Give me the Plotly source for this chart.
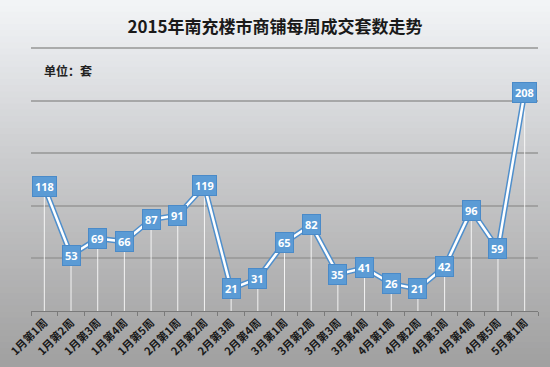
import plotly.graph_objects as go

categories = ["1月第1周", "1月第2周", "1月第3周", "1月第4周", "1月第5周",
              "2月第1周", "2月第2周", "2月第3周", "2月第4周",
              "3月第1周", "3月第2周", "3月第3周", "3月第4周",
              "4月第1周", "4月第2周", "4月第3周", "4月第4周", "4月第5周",
              "5月第1周"]
values = [118, 53, 69, 66, 87, 91, 119, 21, 31, 65, 82, 35, 41, 26, 21, 42, 96, 59, 208]

title_text = "2015年南充楼市商铺每周成交套数走势"
unit_text = "单位：套"

W, H = 550, 367
ML, MR, MT, MB = 31, 12, 47, 56
plot_h = H - MT - MB

fig = go.Figure()

# white drop lines from each point to the axis
fig.add_trace(go.Scatter(
    x=categories, y=values, mode="markers",
    marker=dict(size=1, color="rgba(0,0,0,0)"),
    error_y=dict(type="data", symmetric=False, array=[0] * len(values),
                 arrayminus=values, color="rgba(255,255,255,0.85)",
                 thickness=1, width=0),
    hoverinfo="skip", showlegend=False))

# line: blue outline with white core
fig.add_trace(go.Scatter(x=categories, y=values, mode="lines",
                         line=dict(color="#4f8fcc", width=5.5),
                         hoverinfo="skip", showlegend=False))
fig.add_trace(go.Scatter(x=categories, y=values, mode="lines",
                         line=dict(color="#ffffff", width=2.5),
                         showlegend=False))

# data labels
for c, v in zip(categories, values):
    fig.add_annotation(x=c, y=v, text="<b>%d</b>" % v, showarrow=False,
                       font=dict(family="Noto Sans, DejaVu Sans", size=11, color="white"),
                       bgcolor="#5b9bd5", bordercolor="#4a8ac8", borderwidth=1,
                       borderpad=2, xanchor="center", yanchor="middle")

# gradient background built from horizontal strips
def lerp(a, b, t):
    return tuple(int(round(a[i] + (b[i] - a[i]) * t)) for i in range(3))

stops = [(0, (243, 245, 247)), (60, (228, 230, 233)), (150, (205, 206, 208)),
         (250, (184, 184, 185)), (367, (160, 160, 160))]
n = 60
shapes = []
for i in range(n):
    py0 = H * i / n
    py1 = H * (i + 1) / n
    pm = (py0 + py1) / 2
    for j in range(len(stops) - 1):
        if stops[j][0] <= pm <= stops[j + 1][0]:
            t = (pm - stops[j][0]) / (stops[j + 1][0] - stops[j][0])
            col = lerp(stops[j][1], stops[j + 1][1], t)
            break
    y0 = (H - MB - py1) / plot_h
    y1 = (H - MB - py0) / plot_h
    shapes.append(dict(type="rect", xref="paper", yref="paper",
                       x0=-0.1, x1=1.1, y0=y0 - 0.002, y1=y1 + 0.002,
                       fillcolor="rgb(%d,%d,%d)" % col, line=dict(width=0),
                       layer="below"))

fig.add_annotation(xref="paper", yref="paper", x=0.022, y=(H - MB - 70) / plot_h,
                   text="<b>" + unit_text + "</b>", showarrow=False,
                   xanchor="left", yanchor="middle",
                   font=dict(family="Noto Sans CJK SC", size=12, color="#222"))

fig.update_layout(
    width=W, height=H,
    margin=dict(l=ML, r=MR, t=MT, b=MB),
    paper_bgcolor="#a0a0a0", plot_bgcolor="rgba(0,0,0,0)",
    shapes=shapes,
    title=dict(text="<b>" + title_text + "</b>", x=0.5, xanchor="center",
               y=1 - 27 / H, yanchor="middle",
               font=dict(family="Noto Sans CJK SC", size=17, color="#1a1a1a")),
    xaxis=dict(type="category", range=[-0.5, len(categories) - 0.5],
               automargin=False,
               showgrid=False, showline=True, linecolor="#7a7a7a", linewidth=1,
               ticks="outside", ticklen=4, tickcolor="#7a7a7a", tickson="boundaries",
               tickangle=-45,
               tickfont=dict(family="Noto Sans CJK SC", size=11, color="#1a1a1a",
                             weight="bold"),
               zeroline=False),
    yaxis=dict(range=[0, 251], tickvals=[50, 100, 150, 200, 250], showticklabels=False,
               automargin=False,
               showgrid=True, gridcolor="rgba(150,150,150,0.75)", gridwidth=1.5,
               zeroline=False, showline=False),
)

fig.write_html("out.html", config={"displayModeBar": False},
               post_script="document.body.style.margin='0';document.body.style.overflow='hidden';")
